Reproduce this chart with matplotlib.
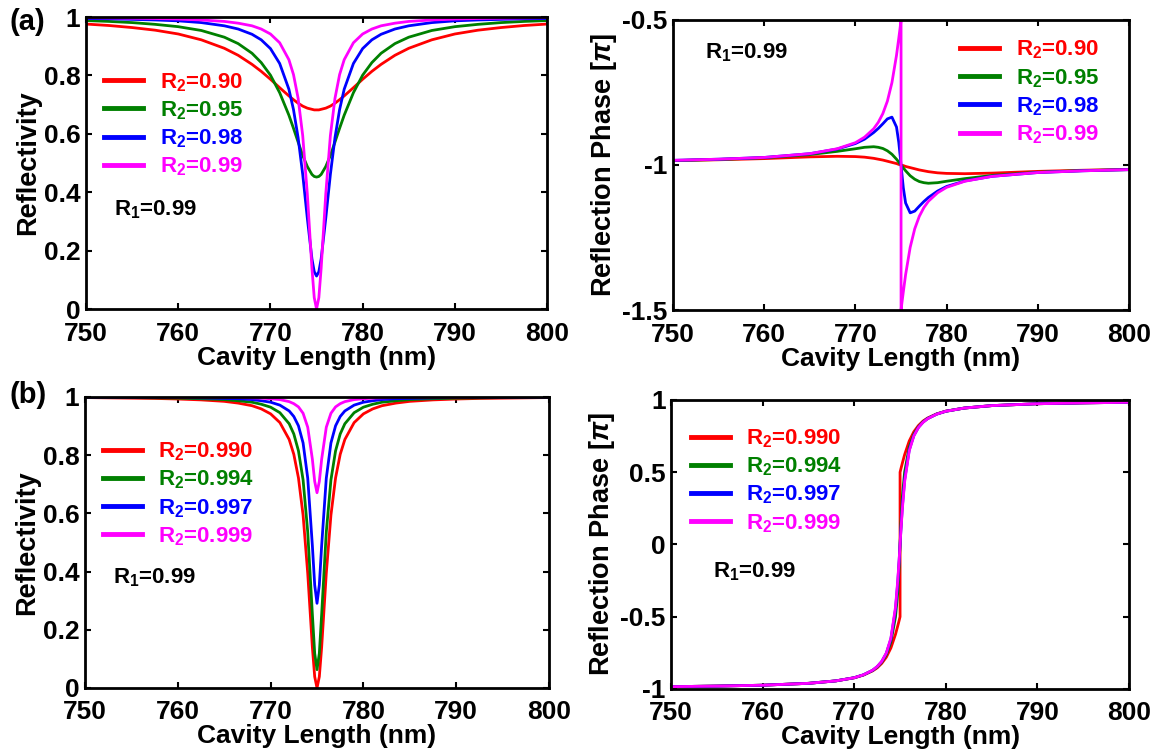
import matplotlib
matplotlib.use("Agg")
import matplotlib.pyplot as plt
from matplotlib.lines import Line2D

plt.rcParams['font.family'] = ['Liberation Sans', 'DejaVu Sans']
plt.rcParams['font.weight'] = 'bold'
plt.rcParams['axes.unicode_minus'] = False
plt.rcParams['mathtext.fontset'] = 'custom'
plt.rcParams['mathtext.rm'] = 'Liberation Sans:bold'
plt.rcParams['mathtext.bf'] = 'Liberation Sans:bold'
plt.rcParams['mathtext.it'] = 'Liberation Sans:italic:bold'
plt.rcParams['mathtext.default'] = 'bf'

# cavity length (nm)
x_refl = [750, 752.5, 755, 757.5, 760, 762.5, 765, 766.5, 768, 769, 770, 771, 772, 772.5, 773, 773.5, 774,
          774.5, 774.75, 775, 775.25, 775.5, 776, 776.5, 777, 777.5, 778, 779, 780, 781, 782, 783.5, 785,
          787.5, 790, 792.5, 795, 797.5, 800]
x_phase = [750, 755, 760, 765, 768, 770, 771, 772, 772.5, 773, 773.5, 774, 774.5, 774.75, 774.9,
           775, 775, 775.1, 775.25, 775.5, 776, 776.5, 777, 777.5, 778, 779, 780, 782, 785, 790, 795, 800]

# (a) R1 = 0.99, R2 = 0.90 ... 0.99
labels_a = ['R$_2$=0.90', 'R$_2$=0.95', 'R$_2$=0.98', 'R$_2$=0.99']
refl_a_090 = [0.976, 0.971, 0.964, 0.955, 0.942, 0.922, 0.893, 0.869, 0.838, 0.814, 0.787, 0.758, 0.730,
              0.717, 0.705, 0.695, 0.688, 0.684, 0.682, 0.682, 0.682, 0.684, 0.688, 0.695, 0.705, 0.717,
              0.730, 0.758, 0.787, 0.814, 0.838, 0.869, 0.893, 0.922, 0.942, 0.955, 0.964, 0.971, 0.976]
refl_a_095 = [0.988, 0.985, 0.981, 0.975, 0.967, 0.954, 0.931, 0.909, 0.876, 0.844, 0.801, 0.741, 0.664,
              0.619, 0.572, 0.526, 0.488, 0.461, 0.454, 0.452, 0.454, 0.461, 0.488, 0.526, 0.572, 0.619,
              0.664, 0.741, 0.801, 0.844, 0.876, 0.909, 0.931, 0.954, 0.967, 0.975, 0.981, 0.985, 0.988]
refl_a_098 = [0.995, 0.994, 0.992, 0.990, 0.987, 0.981, 0.970, 0.959, 0.941, 0.922, 0.892, 0.841, 0.753,
              0.683, 0.587, 0.461, 0.311, 0.172, 0.128, 0.113, 0.128, 0.172, 0.311, 0.461, 0.587, 0.683,
              0.753, 0.841, 0.892, 0.922, 0.941, 0.959, 0.970, 0.981, 0.987, 0.990, 0.992, 0.994, 0.995]
refl_a_099 = [0.998, 0.997, 0.996, 0.995, 0.993, 0.990, 0.985, 0.979, 0.970, 0.959, 0.942, 0.912, 0.854,
              0.803, 0.722, 0.594, 0.394, 0.140, 0.039, 0.0, 0.039, 0.140, 0.394, 0.594, 0.722, 0.803,
              0.854, 0.912, 0.942, 0.959, 0.970, 0.979, 0.985, 0.990, 0.993, 0.995, 0.996, 0.997, 0.998]

phase_a_090 = [-0.985, -0.982, -0.978, -0.972, -0.970, -0.971, -0.973, -0.977, -0.980, -0.983, -0.987, -0.991,
               -0.995, -0.998, -0.999, -1.0, -1.0, -1.001, -1.002, -1.005, -1.009, -1.013, -1.017, -1.020,
               -1.023, -1.027, -1.029, -1.030, -1.028, -1.022, -1.018, -1.015]
phase_a_095 = [-0.985, -0.981, -0.975, -0.964, -0.953, -0.944, -0.939, -0.937, -0.939, -0.943, -0.951, -0.963,
               -0.980, -0.990, -0.996, -1.0, -1.0, -1.004, -1.010, -1.020, -1.037, -1.049, -1.057, -1.061,
               -1.063, -1.061, -1.056, -1.047, -1.036, -1.025, -1.019, -1.016]
phase_a_098 = [-0.984, -0.980, -0.974, -0.961, -0.945, -0.926, -0.911, -0.888, -0.874, -0.858, -0.841, -0.835,
               -0.869, -0.922, -0.967, -1.0, -1.0, -1.033, -1.079, -1.131, -1.165, -1.159, -1.142, -1.126,
               -1.112, -1.090, -1.074, -1.055, -1.039, -1.026, -1.020, -1.016]
phase_a_099 = [-0.984, -0.980, -0.974, -0.961, -0.944, -0.923, -0.904, -0.875, -0.853, -0.823, -0.780, -0.716,
               -0.622, -0.563, -0.526, -0.5, -1.5, -1.474, -1.437, -1.378, -1.284, -1.220, -1.177, -1.147,
               -1.125, -1.096, -1.077, -1.056, -1.039, -1.026, -1.020, -1.016]

# (b) R1 = 0.99, R2 = 0.990 ... 0.999
labels_b = ['R$_2$=0.990', 'R$_2$=0.994', 'R$_2$=0.997', 'R$_2$=0.999']
refl_b_0990 = [0.998, 0.997, 0.996, 0.995, 0.993, 0.990, 0.985, 0.979, 0.970, 0.959, 0.942, 0.912, 0.854,
               0.803, 0.722, 0.594, 0.394, 0.140, 0.039, 0.0, 0.039, 0.140, 0.394, 0.594, 0.722, 0.803,
               0.854, 0.912, 0.942, 0.959, 0.970, 0.979, 0.985, 0.990, 0.993, 0.995, 0.996, 0.997, 0.998]
refl_b_0994 = [0.999, 0.998, 0.998, 0.997, 0.996, 0.994, 0.991, 0.987, 0.982, 0.975, 0.965, 0.946, 0.908,
               0.873, 0.815, 0.715, 0.536, 0.253, 0.119, 0.063, 0.119, 0.253, 0.536, 0.715, 0.815, 0.873,
               0.908, 0.946, 0.965, 0.975, 0.982, 0.987, 0.991, 0.994, 0.996, 0.997, 0.998, 0.998, 0.999]
refl_b_0997 = [0.999, 0.999, 0.999, 0.999, 0.998, 0.997, 0.995, 0.994, 0.991, 0.987, 0.982, 0.972, 0.952,
               0.933, 0.901, 0.842, 0.721, 0.489, 0.354, 0.291, 0.354, 0.489, 0.721, 0.842, 0.901, 0.933,
               0.952, 0.972, 0.982, 0.987, 0.991, 0.994, 0.995, 0.997, 0.998, 0.999, 0.999, 0.999, 0.999]
refl_b_0999 = [1.0, 1.0, 1.0, 1.0, 0.999, 0.999, 0.999, 0.998, 0.997, 0.996, 0.994, 0.991, 0.984,
               0.977, 0.966, 0.944, 0.896, 0.786, 0.710, 0.671, 0.710, 0.786, 0.896, 0.944, 0.966, 0.977,
               0.984, 0.991, 0.994, 0.996, 0.997, 0.998, 0.999, 0.999, 0.999, 1.0, 1.0, 1.0, 1.0]

phase_b_0990 = [-0.984, -0.980, -0.974, -0.961, -0.944, -0.923, -0.904, -0.875, -0.854, -0.823, -0.780, -0.716,
                -0.622, -0.563, -0.526, -0.5, 0.5, 0.526, 0.563, 0.622, 0.716, 0.780, 0.823, 0.854,
                0.875, 0.904, 0.923, 0.944, 0.961, 0.974, 0.980, 0.984]
phase_b_0994 = [-0.984, -0.980, -0.974, -0.961, -0.944, -0.922, -0.903, -0.872, -0.848, -0.814, -0.762, -0.674,
                -0.502, -0.330, -0.154, 0.0, 0.0, 0.154, 0.330, 0.502, 0.674, 0.762, 0.814, 0.848,
                0.872, 0.903, 0.922, 0.944, 0.961, 0.974, 0.980, 0.984]
phase_b_0997 = [-0.984, -0.980, -0.974, -0.961, -0.944, -0.922, -0.902, -0.871, -0.846, -0.810, -0.753, -0.654,
                -0.449, -0.262, -0.111, 0.0, 0.0, 0.111, 0.262, 0.449, 0.654, 0.753, 0.810, 0.846,
                0.871, 0.902, 0.922, 0.944, 0.961, 0.974, 0.980, 0.984]
phase_b_0999 = [-0.984, -0.980, -0.974, -0.961, -0.944, -0.922, -0.902, -0.870, -0.845, -0.809, -0.751, -0.648,
                -0.434, -0.246, -0.103, 0.0, 0.0, 0.103, 0.246, 0.434, 0.648, 0.751, 0.809, 0.845,
                0.870, 0.902, 0.922, 0.944, 0.961, 0.974, 0.980, 0.984]

colors = ['#ff0000', '#008000', '#0000ff', '#ff00ff']
x_ticks = [750, 760, 770, 780, 790, 800]


def style_axes(ax, ylabel, yticks, yticklabels, ylim):
    ax.set_xlim(750, 800)
    ax.set_ylim(*ylim)
    ax.set_xticks(x_ticks)
    ax.set_xticklabels([str(t) for t in x_ticks])
    ax.set_yticks(yticks)
    ax.set_yticklabels(yticklabels)
    ax.tick_params(direction='in', top=True, right=True, length=4, width=1.5, labelsize=19)
    ax.tick_params(axis='x', pad=9)
    ax.tick_params(axis='y', pad=4)
    for sp in ax.spines.values():
        sp.set_linewidth(2)
    ax.set_xlabel('Cavity Length (nm)', fontsize=19, fontweight='bold', labelpad=0)
    ax.set_ylabel(ylabel, fontsize=19.5, fontweight='bold', labelpad=2)


def draw_curves(ax, x, series):
    for ys, c in zip(series, colors):
        ax.plot(x, ys, color=c, lw=2.0, solid_joinstyle='round')


def add_legend(ax, labels, anchor):
    handles = [Line2D([0], [0], color=c, lw=3.5) for c in colors]
    leg = ax.legend(handles, labels, loc='upper left', bbox_to_anchor=anchor, frameon=False,
                    fontsize=16, handlelength=1.75, handletextpad=0.75, labelspacing=0.25,
                    borderpad=0, borderaxespad=0)
    for txt, c in zip(leg.get_texts(), colors):
        txt.set_color(c)


fig = plt.figure(figsize=(11.61, 7.51), dpi=100)
ax_tl = fig.add_axes([0.0741, 0.5885, 0.3971, 0.3888])
ax_tr = fig.add_axes([0.5797, 0.5872, 0.3928, 0.3862])
ax_bl = fig.add_axes([0.0732, 0.0839, 0.3997, 0.3875])
ax_br = fig.add_axes([0.5780, 0.0826, 0.3945, 0.3848])

refl_ticks = [0, 0.2, 0.4, 0.6, 0.8, 1]
refl_labels = ['0', '0.2', '0.4', '0.6', '0.8', '1']
phase_name = r'Reflection Phase [$\mathit{\pi}$]'

# top left: reflectivity (a)
draw_curves(ax_tl, x_refl, [refl_a_090, refl_a_095, refl_a_098, refl_a_099])
style_axes(ax_tl, 'Reflectivity', refl_ticks, refl_labels, (0, 1))
add_legend(ax_tl, labels_a, (0.04, 0.815))
ax_tl.text(0.061, 0.339, 'R$_1$=0.99', transform=ax_tl.transAxes, fontsize=16, va='center')

# top right: phase (a)
draw_curves(ax_tr, x_phase, [phase_a_090, phase_a_095, phase_a_098, phase_a_099])
style_axes(ax_tr, phase_name, [-1.5, -1, -0.5], ['-1.5', '-1', '-0.5'], (-1.5, -0.5))
add_legend(ax_tr, labels_a, (0.63, 0.935))
ax_tr.text(0.07, 0.886, 'R$_1$=0.99', transform=ax_tr.transAxes, fontsize=16, va='center')

# bottom left: reflectivity (b)
draw_curves(ax_bl, x_refl, [refl_b_0990, refl_b_0994, refl_b_0997, refl_b_0999])
style_axes(ax_bl, 'Reflectivity', refl_ticks, refl_labels, (0, 1))
add_legend(ax_bl, labels_b, (0.038, 0.85))
ax_bl.text(0.06, 0.378, 'R$_1$=0.99', transform=ax_bl.transAxes, fontsize=16, va='center')

# bottom right: phase (b)
draw_curves(ax_br, x_phase, [phase_b_0990, phase_b_0994, phase_b_0997, phase_b_0999])
style_axes(ax_br, phase_name, [-1, -0.5, 0, 0.5, 1], ['-1', '-0.5', '0', '0.5', '1'], (-1, 1))
add_legend(ax_br, labels_b, (0.043, 0.905))
ax_br.text(0.092, 0.405, 'R$_1$=0.99', transform=ax_br.transAxes, fontsize=16, va='center')

fig.text(0.008, 0.971, '(a)', fontsize=21, fontweight='bold', va='center')
fig.text(0.008, 0.474, '(b)', fontsize=21, fontweight='bold', va='center')

fig.savefig('out.png', dpi=100)
